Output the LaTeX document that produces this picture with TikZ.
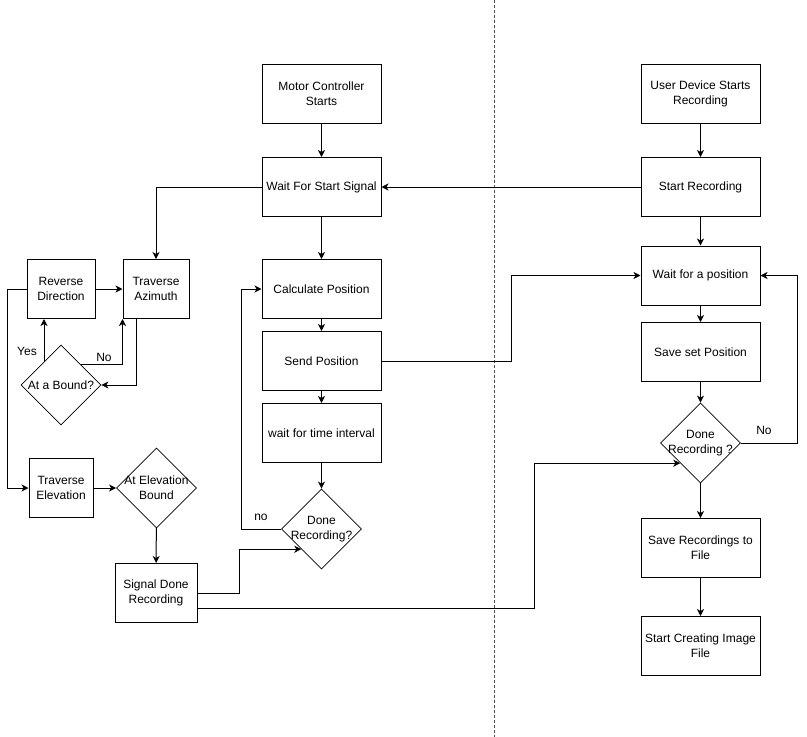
\documentclass[tikz,border=0pt]{standalone}
\usepackage{fontspec}
\setmainfont{Liberation Sans}
\usetikzlibrary{arrows.meta,shapes.geometric}

\begin{document}
\begin{tikzpicture}[
  x=1pt,y=-1pt,
  box/.style={draw,align=center,inner sep=2pt,font=\fontsize{12}{15}\selectfont,
              minimum width=119pt,minimum height=59pt,line width=1pt},
  small/.style={box,minimum width=66pt},
  decision/.style={draw,diamond,minimum width=80pt,minimum height=80pt,inner sep=0pt,
              line width=0.8pt,label={[font=\fontsize{12}{15}\selectfont,align=center]center:#1}},
  txt/.style={font=\fontsize{12}{15}\selectfont,inner sep=0pt},
  arr/.style={-{Stealth[length=7pt,width=7pt,inset=2pt]},line width=1pt}
]
\useasboundingbox (0,0) rectangle (807,737);
\coordinate (divtop) at (494,0);
\coordinate (divbot) at (494,737);
\draw[dash pattern=on 3pt off 2pt,line width=0.8pt,black!70] (divtop) -- (divbot);

\node[box] (motor) at (321.5,93.5) {Motor Controller\\Starts};
\node[box] (wait) at (321.5,187) {Wait For Start Signal};
\node[box] (calc) at (321.5,289) {Calculate Position};
\node[box] (send) at (321.5,361) {Send Position};
\node[box] (interval) at (321.5,433) {wait for time interval};
\node[decision={Done\\Recording?}] (done1) at (321.5,529) {};

\node[small,minimum width=68pt] (rev) at (61,289) {Reverse\\Direction};
\node[small] (azim) at (156,289) {Traverse\\Azimuth};
\node[decision={At a Bound?}] (bound) at (61,385) {};
\node[small,minimum width=64pt] (trelev) at (61,488) {Traverse\\Elevation};
\node[decision={At Elevation\\Bound}] (elevb) at (156.5,488) {};
\node[small,minimum width=82pt] (sigdone) at (156,593) {Signal Done\\Recording};

\node[box] (userstart) at (700.5,93.5) {User Device Starts\\Recording};
\node[box] (startrec) at (700.5,187) {Start Recording};
\node[box] (waitpos) at (700.5,275.5) {Wait for a position};
\node[box] (saveset) at (700.5,352) {Save set Position};
\node[decision={Done\\Recording ?}] (done2) at (700.5,443) {};
\node[box] (saverec) at (700.5,548) {Save Recordings to\\File};
\node[box] (image) at (700.5,646) {Start Creating Image\\File};

\draw[arr] (motor) -- (wait);
\draw[arr] (startrec) -- (wait);
\draw[arr] (wait.west) -| (azim.north);
\draw[arr] (wait) -- (calc);
\draw[arr] (calc) -- (send);
\draw[arr] (send) -- (interval);
\draw[arr] (interval) -- (done1);
\draw[arr] (done1.west) -- ++(-40,0) |- (calc.west);
\node[txt] (nolbl) at (261,517) {no};
\draw[arr] (send.east) -- ++(130,0) |- (waitpos.west);

\draw[arr] (rev.west) -- ++(-19,0) |- (trelev.west);
\draw[arr] (rev) -- (azim);
\draw[arr] ([xshift=-20pt]azim.south) |- (bound.east);
\draw[arr] (bound.north east) -| (azim.south west);
\draw[arr] ([xshift=-17pt,yshift=23pt]bound.center) -- ([xshift=-17pt]rev.south);
\node[txt] (yeslbl) at (27,351) {Yes};
\node[txt] (nolbl2) at (104,357) {No};
\draw[arr] (trelev) -- (elevb);
\draw[arr] (elevb) -- (sigdone);
\draw[arr] (sigdone.east) -- ++(42,0) |- (done1.south west);
\draw[arr] ([yshift=-15pt]sigdone.east) -- ++(337,0) |- (done2.south west);

\draw[arr] (userstart) -- (startrec);
\draw[arr] (startrec) -- (waitpos);
\draw[arr] (waitpos) -- (saveset);
\draw[arr] (saveset) -- (done2);
\draw[arr] (done2.east) -- ++(57,0) |- (waitpos.east);
\node[txt] (nolbl3) at (764,430) {No};
\draw[arr] (done2) -- (saverec);
\draw[arr] (saverec) -- (image);
\end{tikzpicture}
\end{document}
